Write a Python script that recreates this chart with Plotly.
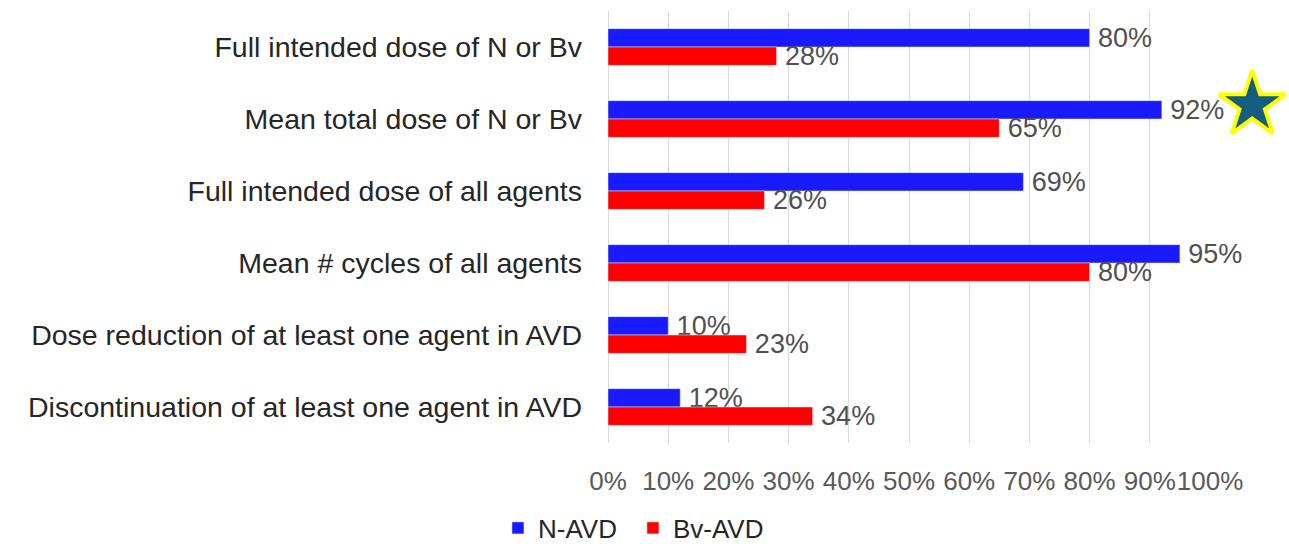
import plotly.graph_objects as go

categories = [
    "Full intended dose of N or Bv",
    "Mean total dose of N or Bv",
    "Full intended dose of all agents",
    "Mean # cycles of all agents",
    "Dose reduction of at least one agent in AVD",
    "Discontinuation of at least one agent in AVD",
]
n_avd = [80, 92, 69, 95, 10, 12]
bv_avd = [28, 65, 26, 80, 23, 34]
x_ticks = [0, 10, 20, 30, 40, 50, 60, 70, 80, 90, 100]
star_x = [0.946]
star_y = [0.782]

FONT = "Liberation Sans, Arial, sans-serif"
CAT_COLOR = "#262626"
LABEL_COLOR = "#505050"
TICK_COLOR = "#595959"

W, H = 1289, 544
L, R, T, B = 608, 0, 11, 101
plot_w = W - L - R
main_domain_end = 602 / plot_w

fig = go.Figure()
fig.add_trace(go.Bar(
    y=categories, x=n_avd, name="N-AVD", orientation="h",
    marker=dict(color="#1a1aff"),
    text=[f"\u2009{v}%" for v in n_avd], textposition="outside",
    constraintext="none",
    textfont=dict(family=FONT, size=27, color=LABEL_COLOR),
    cliponaxis=False,
))
fig.add_trace(go.Bar(
    y=categories, x=bv_avd, name="Bv-AVD", orientation="h",
    marker=dict(color="#ff0000"),
    text=[f"\u2009{v}%" for v in bv_avd], textposition="outside",
    constraintext="none",
    textfont=dict(family=FONT, size=27, color=LABEL_COLOR),
    cliponaxis=False,
))
# star highlight on its own invisible full-width axes
fig.add_trace(go.Scatter(
    x=star_x, y=star_y, xaxis="x2", yaxis="y2", mode="markers",
    marker=dict(symbol="star", size=50, color="#155d7e",
                line=dict(color="#ffff00", width=4)),
    showlegend=False, cliponaxis=False, hoverinfo="skip",
))

fig.update_layout(
    width=W, height=H,
    margin=dict(l=L, r=R, t=T, b=B),
    paper_bgcolor="white", plot_bgcolor="rgba(0,0,0,0)",
    barmode="group", bargap=0.49, bargroupgap=0,
    font=dict(family=FONT, color=LABEL_COLOR),
    xaxis=dict(
        domain=[0, main_domain_end],
        range=[0, 100], tickvals=x_ticks, ticktext=[f"{v}%" for v in x_ticks],
        showgrid=True, gridcolor="#d9d9d9", gridwidth=1,
        zeroline=True, zerolinecolor="#d9d9d9", zerolinewidth=1,
        showline=False, ticks="", tickangle=0, automargin=False,
        tickfont=dict(family=FONT, size=26, color=TICK_COLOR),
        ticklabelstandoff=20,
    ),
    yaxis=dict(
        autorange="reversed", showgrid=False, ticks="", showline=False,
        zeroline=False, automargin=False,
        tickfont=dict(family=FONT, size=28.5, color=CAT_COLOR),
        ticklabelstandoff=25,
    ),
    xaxis2=dict(domain=[0, 1], range=[0, 1], visible=False, anchor="y2"),
    yaxis2=dict(domain=[0, 1], range=[0, 1], visible=False, anchor="x2"),
    legend=dict(
        orientation="h", xref="container", x=0.3863, xanchor="left",
        yref="container", y=0.0294, yanchor="middle",
        font=dict(family=FONT, size=26, color=CAT_COLOR),
        entrywidth=90, entrywidthmode="pixels",
    ),
)

fig.write_html("out.html", config={"displayModeBar": False},
               post_script="document.body.style.margin='0px';")
